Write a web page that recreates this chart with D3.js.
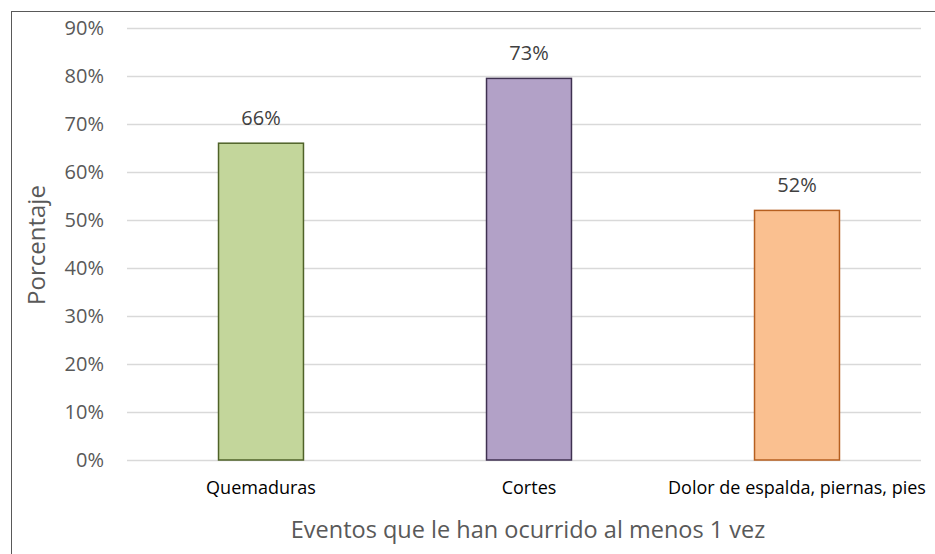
<!DOCTYPE html>
<html>
<head>
<meta charset="utf-8">
<script src="https://cdn.jsdelivr.net/npm/d3@7"></script>
<style>
  body { margin: 0; background: #fff; }
  text { font-family: "Open Sans", "Liberation Sans", sans-serif; }
</style>
</head>
<body>
<div id="chart"></div>
<script>
// Data
const categories = ["Quemaduras", "Cortes", "Dolor de espalda, piernas, pies"];
const barValues = [66, 79.5, 52];          // bar heights as drawn
const barLabels = ["66%", "73%", "52%"];   // labels as printed
const fillColors = ["#c3d69b", "#b2a1c7", "#fac090"];
const strokeColors = ["#4f6228", "#3f3151", "#b65f1f"];
const yTicks = [0, 10, 20, 30, 40, 50, 60, 70, 80, 90];

const width = 935, height = 554;

const svg = d3.select("#chart")
    .append("svg")
    .attr("width", width)
    .attr("height", height);

// Outer frame of the chart area
svg.append("rect")
    .attr("x", 11.5)
    .attr("y", 11.5)
    .attr("width", 940)
    .attr("height", 560)
    .attr("fill", "none")
    .attr("stroke", "#595959")
    .attr("stroke-width", 1);

// Scales
const xScale = d3.scaleBand()
    .domain(categories)
    .range([127, 931])
    .paddingInner(0.683)
    .paddingOuter(0.3415);

const yScale = d3.scaleLinear()
    .domain([0, 90])
    .range([460, 28]);

// Gridlines
svg.append("g")
    .selectAll("line")
    .data(yTicks)
    .join("line")
    .attr("x1", 127)
    .attr("x2", 921)
    .attr("y1", d => yScale(d) + 0.5)
    .attr("y2", d => yScale(d) + 0.5)
    .attr("stroke", "#d9d9d9")
    .attr("stroke-width", 1.5);

// Y axis labels
const yAxis = svg.append("g")
    .attr("transform", "translate(104,0)")
    .call(d3.axisLeft(yScale).tickValues(yTicks).tickFormat(d => d + "%").tickSize(0).tickPadding(0));
yAxis.select(".domain").remove();
yAxis.selectAll("text")
    .attr("fill", "#595959")
    .style("font-size", "20px")
    .style("font-family", "'Open Sans', sans-serif");

// Bars
svg.append("g")
    .selectAll("rect")
    .data(categories)
    .join("rect")
    .attr("x", d => xScale(d))
    .attr("y", (d, i) => yScale(barValues[i]))
    .attr("width", xScale.bandwidth())
    .attr("height", (d, i) => yScale(0) - yScale(barValues[i]))
    .attr("fill", (d, i) => fillColors[i])
    .attr("stroke", (d, i) => strokeColors[i])
    .attr("stroke-width", 1.5);

// Value labels
svg.append("g")
    .selectAll("text")
    .data(categories)
    .join("text")
    .attr("x", d => xScale(d) + xScale.bandwidth() / 2)
    .attr("y", (d, i) => yScale(barValues[i]) - 18)
    .attr("text-anchor", "middle")
    .attr("fill", "#404040")
    .style("font-size", "20px")
    .text((d, i) => barLabels[i]);

// Category labels
svg.append("g")
    .selectAll("text")
    .data(categories)
    .join("text")
    .attr("x", d => xScale(d) + xScale.bandwidth() / 2)
    .attr("y", 494)
    .attr("text-anchor", "middle")
    .attr("fill", "#000")
    .style("font-size", "18px")
    .text(d => d);

// Axis titles
svg.append("text")
    .attr("x", 528)
    .attr("y", 538)
    .attr("text-anchor", "middle")
    .attr("fill", "#595959")
    .style("font-size", "23.5px")
    .text("Eventos que le han ocurrido al menos 1 vez");

svg.append("text")
    .attr("transform", "translate(45,245) rotate(-90)")
    .attr("text-anchor", "middle")
    .attr("fill", "#595959")
    .style("font-size", "24px")
    .text("Porcentaje");
</script>
</body>
</html>
